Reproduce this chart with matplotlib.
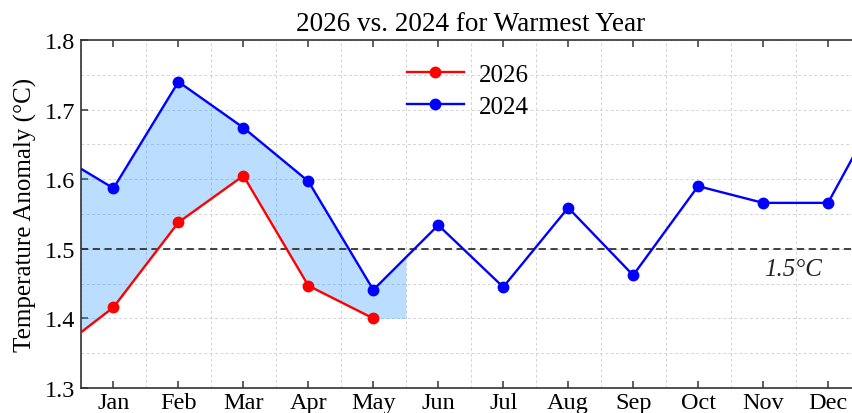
import numpy as np
import matplotlib
matplotlib.use("Agg")
import matplotlib.pyplot as plt
from matplotlib.ticker import MultipleLocator

plt.rcParams['font.family'] = ['Liberation Serif', 'DejaVu Serif']

# Month labels (position 1 = Jan)
months = ["Jan", "Feb", "Mar", "Apr", "May", "Jun",
          "Jul", "Aug", "Sep", "Oct", "Nov", "Dec"]

# 2024 monthly anomalies, with Dec 2023 before and Jan 2025 after
anom_2024 = [1.587, 1.740, 1.674, 1.597, 1.441, 1.534,
             1.445, 1.559, 1.462, 1.590, 1.566, 1.566]
prev_dec_2023 = 1.643
next_jan_2025 = 1.737

# 2026 monthly anomalies so far, with Dec 2025 before
anom_2026 = [1.416, 1.538, 1.605, 1.447, 1.400]
prev_dec_2025 = 1.344

threshold = 1.5

x24 = np.arange(0, 14)
y24 = np.array([prev_dec_2023] + anom_2024 + [next_jan_2025])
x26 = np.arange(0, len(anom_2026) + 1)
y26 = np.array([prev_dec_2025] + anom_2026)

fig = plt.figure(figsize=(8.52, 4.14), dpi=100)
ax = fig.add_axes([81 / 852, 1 - 389 / 414, (860.5 - 81) / 852, (389 - 41) / 414])

# shaded gap between the two years, extended half a month past the last 2026 value
fx = np.append(x26, x26[-1] + 0.5)
f_low = np.append(y26, y26[-1])
f_up = np.interp(fx, x24, y24)
ax.fill_between(fx, f_low, f_up, color='dodgerblue', alpha=0.3, lw=0, zorder=1)

ax.axhline(threshold, color='#333333', ls='--', lw=1.3, dashes=(4, 2.5), zorder=2)
ax.text(11.9, 1.487, "1.5°C", style='italic', fontsize=18, ha='right', va='top',
        color='#222222', zorder=3)

ax.plot(x26, y26, color='#ff0000', lw=1.7, marker='o', ms=7.5, label='2026', zorder=4)
ax.plot(x24, y24, color='#0000ff', lw=1.7, marker='o', ms=7.5, label='2024', zorder=4)

ax.set_xlim(0.5, 12.5)
ax.set_ylim(1.3, 1.8)
ax.set_xticks(np.arange(1, 13))
ax.set_xticklabels(months)
ax.xaxis.set_minor_locator(MultipleLocator(1.0, offset=0.5))
ax.yaxis.set_major_locator(MultipleLocator(0.1))
ax.yaxis.set_minor_locator(MultipleLocator(0.05))

grid_kw = dict(color='#d4d4d4', ls=(0, (3, 2.5)), lw=0.7)
ax.grid(which='minor', axis='x', **grid_kw)
ax.grid(which='both', axis='y', **grid_kw)
ax.set_axisbelow(True)

ax.tick_params(which='major', direction='in', length=5, width=1.1, color='#333333',
               top=True, right=True, labelsize=17.5, pad=4)
ax.tick_params(axis='x', which='major', pad=3)
ax.tick_params(which='minor', length=0)
for s in ax.spines.values():
    s.set_color('#333333')
    s.set_linewidth(1.2)

ax.set_title("2026 vs. 2024 for Warmest Year", fontsize=19.5, pad=7)
ax.set_ylabel("Temperature Anomaly (°C)", fontsize=18, labelpad=6)

ax.legend(loc='upper left', bbox_to_anchor=(0.405, 0.962), frameon=False,
          fontsize=18, handlelength=2.3, handletextpad=0.6, labelspacing=0.38,
          borderaxespad=0)

fig.savefig("out.png", dpi=100)
